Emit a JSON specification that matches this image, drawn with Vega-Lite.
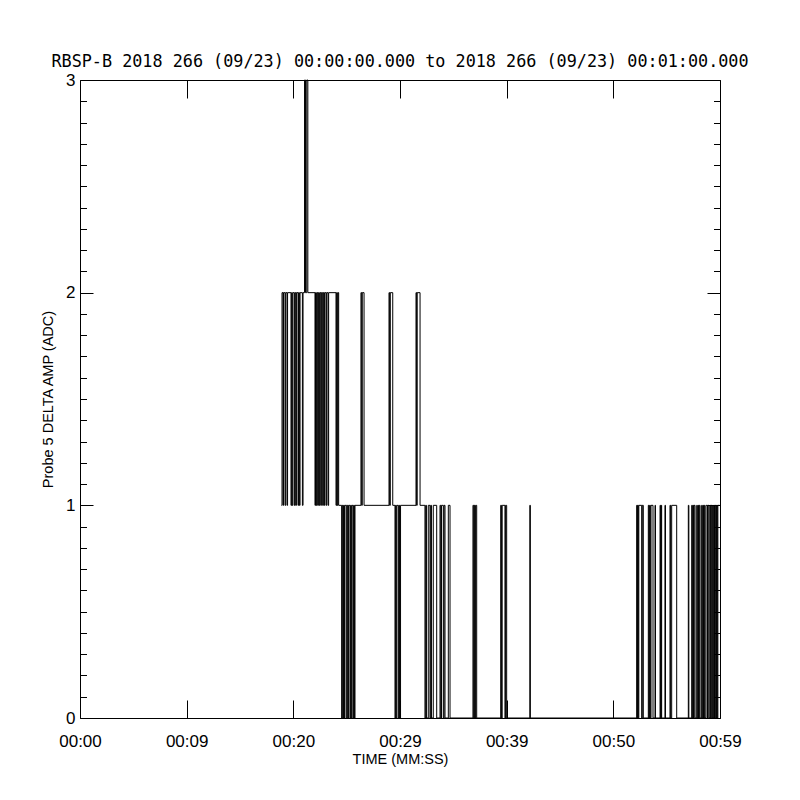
{
  "$schema": "https://vega.github.io/schema/vega-lite/v6.json",
  "width": 640,
  "height": 638,
  "autosize": {"type": "none"},
  "padding": {"left": 80, "top": 80, "right": 80, "bottom": 82},
  "background": "white",
  "title": {
    "text": "RBSP-B 2018 266 (09/23) 00:00:00.000 to 2018 266 (09/23) 00:01:00.000",
    "font": "DejaVu Sans Mono",
    "fontSize": 16.8,
    "fontWeight": "normal",
    "color": "black",
    "anchor": "middle",
    "offset": 0
  },
  "config": {
    "view": {"stroke": "black", "strokeWidth": 1},
    "axis": {
      "grid": false,
      "domain": false,
      "tickColor": "black",
      "tickWidth": 1,
      "labelColor": "black",
      "labelFont": "Liberation Sans",
      "labelFontSize": 17,
      "titleFont": "Liberation Sans",
      "titleFontSize": 14.5,
      "titleFontWeight": "normal",
      "titleColor": "black"
    }
  },
  "data": {
    "values": [
      {"t": 18.89, "v": 1}, {"t": 18.94, "v": 2}, {"t": 19.03, "v": 1}, {"t": 19.08, "v": 2},
      {"t": 19.22, "v": 1}, {"t": 19.28, "v": 2}, {"t": 19.41, "v": 1}, {"t": 19.46, "v": 2},
      {"t": 19.78, "v": 1}, {"t": 19.84, "v": 2}, {"t": 19.90, "v": 1}, {"t": 19.96, "v": 2},
      {"t": 20.10, "v": 1}, {"t": 20.16, "v": 2}, {"t": 20.23, "v": 1}, {"t": 20.29, "v": 2},
      {"t": 20.44, "v": 1}, {"t": 20.49, "v": 2}, {"t": 20.57, "v": 1}, {"t": 20.63, "v": 2},
      {"t": 20.85, "v": 1}, {"t": 20.91, "v": 2}, {"t": 21.05, "v": 3}, {"t": 21.14, "v": 2},
      {"t": 21.26, "v": 3}, {"t": 21.36, "v": 2}, {"t": 22.03, "v": 1}, {"t": 22.08, "v": 2},
      {"t": 22.16, "v": 1}, {"t": 22.22, "v": 2}, {"t": 22.29, "v": 1}, {"t": 22.35, "v": 2},
      {"t": 22.44, "v": 1}, {"t": 22.50, "v": 2}, {"t": 22.58, "v": 1}, {"t": 22.63, "v": 2},
      {"t": 22.75, "v": 1}, {"t": 22.81, "v": 2}, {"t": 22.88, "v": 1}, {"t": 22.93, "v": 2},
      {"t": 23.06, "v": 1}, {"t": 23.12, "v": 2}, {"t": 23.25, "v": 1}, {"t": 23.31, "v": 2},
      {"t": 24.00, "v": 1}, {"t": 24.06, "v": 2}, {"t": 24.12, "v": 1}, {"t": 24.18, "v": 2},
      {"t": 24.25, "v": 1}, {"t": 24.53, "v": 0}, {"t": 24.59, "v": 1}, {"t": 24.66, "v": 0},
      {"t": 24.71, "v": 1}, {"t": 24.79, "v": 0}, {"t": 24.84, "v": 1}, {"t": 25.00, "v": 0},
      {"t": 25.06, "v": 1}, {"t": 25.13, "v": 0}, {"t": 25.18, "v": 1}, {"t": 25.31, "v": 0},
      {"t": 25.37, "v": 1}, {"t": 25.43, "v": 0}, {"t": 25.48, "v": 1}, {"t": 25.59, "v": 0},
      {"t": 25.65, "v": 1}, {"t": 25.73, "v": 0}, {"t": 25.78, "v": 1}, {"t": 26.34, "v": 2},
      {"t": 26.41, "v": 1}, {"t": 26.46, "v": 2}, {"t": 26.63, "v": 1}, {"t": 28.97, "v": 2},
      {"t": 29.03, "v": 1}, {"t": 29.09, "v": 2}, {"t": 29.32, "v": 1}, {"t": 29.53, "v": 0},
      {"t": 29.59, "v": 1}, {"t": 29.64, "v": 0}, {"t": 29.70, "v": 1}, {"t": 29.84, "v": 0},
      {"t": 29.90, "v": 1}, {"t": 29.96, "v": 0}, {"t": 30.05, "v": 1}, {"t": 31.50, "v": 2},
      {"t": 31.56, "v": 1}, {"t": 31.61, "v": 2}, {"t": 31.88, "v": 1}, {"t": 32.34, "v": 0},
      {"t": 32.41, "v": 1}, {"t": 32.48, "v": 0}, {"t": 32.65, "v": 1}, {"t": 32.81, "v": 0},
      {"t": 32.88, "v": 1}, {"t": 32.95, "v": 0}, {"t": 33.12, "v": 1}, {"t": 33.44, "v": 0},
      {"t": 33.75, "v": 1}, {"t": 33.82, "v": 0}, {"t": 33.89, "v": 1}, {"t": 34.06, "v": 0},
      {"t": 34.13, "v": 1}, {"t": 34.22, "v": 0}, {"t": 34.53, "v": 1}, {"t": 34.69, "v": 0},
      {"t": 36.84, "v": 1}, {"t": 36.91, "v": 0}, {"t": 36.97, "v": 1}, {"t": 37.03, "v": 0},
      {"t": 37.09, "v": 1}, {"t": 37.19, "v": 0}, {"t": 39.44, "v": 1}, {"t": 39.51, "v": 0},
      {"t": 39.58, "v": 1}, {"t": 39.84, "v": 0}, {"t": 39.90, "v": 1}, {"t": 40.00, "v": 0},
      {"t": 42.17, "v": 1}, {"t": 42.22, "v": 0}, {"t": 52.19, "v": 1}, {"t": 52.24, "v": 0},
      {"t": 52.28, "v": 1}, {"t": 52.34, "v": 0}, {"t": 52.39, "v": 1}, {"t": 52.66, "v": 0},
      {"t": 52.71, "v": 1}, {"t": 52.81, "v": 0}, {"t": 53.28, "v": 1}, {"t": 53.34, "v": 0},
      {"t": 53.40, "v": 1}, {"t": 53.47, "v": 0}, {"t": 53.53, "v": 1}, {"t": 53.72, "v": 0},
      {"t": 53.91, "v": 1}, {"t": 53.95, "v": 0}, {"t": 54.38, "v": 1}, {"t": 54.43, "v": 0},
      {"t": 54.49, "v": 1}, {"t": 54.53, "v": 0}, {"t": 54.84, "v": 1}, {"t": 54.89, "v": 0},
      {"t": 55.31, "v": 1}, {"t": 55.37, "v": 0}, {"t": 55.47, "v": 1}, {"t": 55.94, "v": 0},
      {"t": 57.03, "v": 1}, {"t": 57.08, "v": 0}, {"t": 57.35, "v": 1}, {"t": 57.40, "v": 0},
      {"t": 57.46, "v": 1}, {"t": 57.52, "v": 0}, {"t": 57.57, "v": 1}, {"t": 57.66, "v": 0},
      {"t": 57.82, "v": 1}, {"t": 57.87, "v": 0}, {"t": 57.94, "v": 1}, {"t": 57.99, "v": 0},
      {"t": 58.06, "v": 1}, {"t": 58.13, "v": 0}, {"t": 58.28, "v": 1}, {"t": 58.34, "v": 0},
      {"t": 58.41, "v": 1}, {"t": 58.46, "v": 0}, {"t": 58.53, "v": 1}, {"t": 58.59, "v": 0},
      {"t": 58.69, "v": 1}, {"t": 58.83, "v": 0}, {"t": 58.88, "v": 1}, {"t": 58.97, "v": 0},
      {"t": 59.06, "v": 1}, {"t": 59.12, "v": 0}, {"t": 59.18, "v": 1}, {"t": 59.25, "v": 0},
      {"t": 59.32, "v": 1}, {"t": 59.37, "v": 0}, {"t": 59.44, "v": 1}, {"t": 59.49, "v": 0},
      {"t": 59.56, "v": 1}, {"t": 59.63, "v": 0}, {"t": 59.68, "v": 1}, {"t": 59.75, "v": 0},
      {"t": 59.80, "v": 1}, {"t": 59.95, "v": 1}
    ]
  },
  "layer": [
    {
      "mark": {"type": "line", "interpolate": "step-after", "color": "black", "strokeWidth": 1},
      "encoding": {
        "x": {
          "field": "t",
          "type": "quantitative",
          "scale": {"domain": [0, 60], "nice": false, "zero": false},
          "axis": {
            "orient": "bottom",
            "values": [0, 10, 20, 30, 40, 50, 60],
            "labelExpr": "['00:00','00:09','00:20','00:29','00:39','00:50','00:59'][round(datum.value/10)]",
            "tickSize": -18,
            "labelPadding": 33,
            "labelOverlap": false,
            "labelFlush": false,
            "title": "TIME (MM:SS)",
            "titlePadding": 3
          }
        },
        "y": {
          "field": "v",
          "type": "quantitative",
          "scale": {"domain": [0, 3], "nice": false, "zero": false},
          "axis": {
            "orient": "left",
            "values": [0, 0.1, 0.2, 0.3, 0.4, 0.5, 0.6, 0.7, 0.8, 0.9, 1, 1.1, 1.2, 1.3, 1.4, 1.5, 1.6, 1.7, 1.8, 1.9, 2, 2.1, 2.2, 2.3, 2.4, 2.5, 2.6, 2.7, 2.8, 2.9, 3],
            "labelExpr": "abs(datum.value - round(datum.value)) < 0.001 ? '' + round(datum.value) : ''",
            "tickSize": {"condition": {"test": "abs(datum.value - round(datum.value)) < 0.001", "value": -13}, "value": -6.5},
            "labelPadding": 18,
            "labelOverlap": false,
            "labelFlush": false,
            "title": "Probe 5 DELTA AMP (ADC)",
            "titlePadding": 10
          }
        }
      }
    },
    {
      "mark": {"type": "line", "interpolate": "step-after", "opacity": 0},
      "encoding": {
        "x": {
          "field": "t",
          "type": "quantitative",
          "axis": {
            "orient": "top",
            "values": [0, 10, 20, 30, 40, 50, 60],
            "labels": false,
            "tickSize": -18,
            "title": null
          }
        },
        "y": {
          "field": "v",
          "type": "quantitative",
          "axis": {
            "orient": "right",
            "values": [0, 0.1, 0.2, 0.3, 0.4, 0.5, 0.6, 0.7, 0.8, 0.9, 1, 1.1, 1.2, 1.3, 1.4, 1.5, 1.6, 1.7, 1.8, 1.9, 2, 2.1, 2.2, 2.3, 2.4, 2.5, 2.6, 2.7, 2.8, 2.9, 3],
            "labels": false,
            "tickSize": {"condition": {"test": "abs(datum.value - round(datum.value)) < 0.001", "value": -13}, "value": -6.5},
            "title": null
          }
        }
      }
    }
  ],
  "resolve": {"axis": {"x": "independent", "y": "independent"}}
}
